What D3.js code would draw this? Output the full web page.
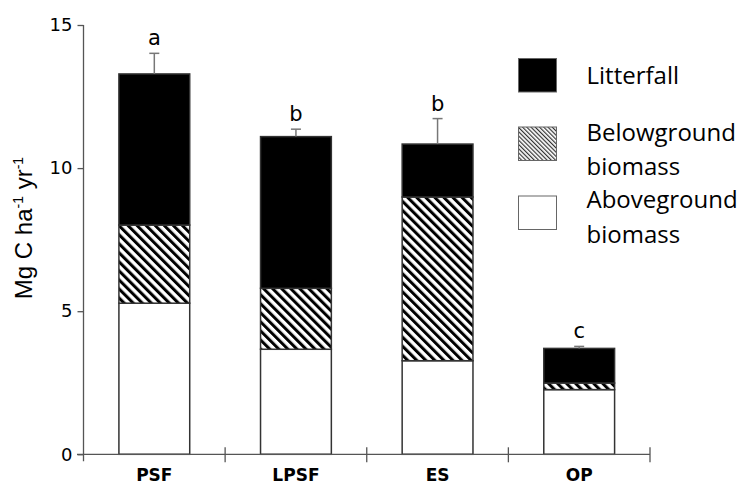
<!DOCTYPE html>
<html>
<head>
<meta charset="utf-8">
<script src="https://cdn.jsdelivr.net/npm/d3@7"></script>
<style>
  body { margin: 0; background: #fff; }
  svg { display: block; }
</style>
</head>
<body>
<div id="chart"></div>
<script>
// values (Mg C ha-1 yr-1)
var categories = ["PSF", "LPSF", "ES", "OP"];
var aboveground = [5.28, 3.67, 3.27, 2.26];
var belowground = [2.73, 2.13, 5.72, 0.23];
var litterfall = [5.28, 5.30, 1.85, 1.21];
var errorUp = [0.72, 0.26, 0.89, 0.07];
var letters = ["a", "b", "b", "c"];
var yTicks = [0, 5, 10, 15];
var seriesKeys = ["aboveground", "belowground", "litterfall"];
var legendItems = [
  { key: "litterfall", lines: ["Litterfall"] },
  { key: "belowground", lines: ["Belowground", "biomass"] },
  { key: "aboveground", lines: ["Aboveground", "biomass"] }
];

var width = 741, height = 486;
var svg = d3.select("#chart").append("svg")
  .attr("width", width)
  .attr("height", height);

// hatch patterns
var defs = svg.append("defs");
defs.append("pattern")
  .attr("id", "hatch")
  .attr("patternUnits", "userSpaceOnUse")
  .attr("width", 6.4).attr("height", 6.4)
  .attr("patternTransform", "rotate(-45)")
  .call(function (p) {
    p.append("rect").attr("width", 6.4).attr("height", 6.4).attr("fill", "#fff");
    p.append("rect").attr("width", 3).attr("height", 6.4).attr("fill", "#000");
  });
defs.append("pattern")
  .attr("id", "hatchFine")
  .attr("patternUnits", "userSpaceOnUse")
  .attr("width", 3).attr("height", 3)
  .attr("patternTransform", "rotate(-45)")
  .call(function (p) {
    p.append("rect").attr("width", 3).attr("height", 3).attr("fill", "#fff");
    p.append("rect").attr("width", 1.2).attr("height", 3).attr("fill", "#333");
  });

var fills = { aboveground: "#fff", belowground: "url(#hatch)", litterfall: "#000" };
var legendFills = { aboveground: "#fff", belowground: "url(#hatchFine)", litterfall: "#000" };

var data = categories.map(function (c, i) {
  return {
    cat: c,
    aboveground: aboveground[i],
    belowground: belowground[i],
    litterfall: litterfall[i],
    err: errorUp[i],
    letter: letters[i]
  };
});

var x = d3.scaleBand()
  .domain(categories)
  .range([83.5, 650])
  .paddingInner(0.5)
  .paddingOuter(0.25);

var y = d3.scaleLinear()
  .domain([0, 15])
  .range([454.3, 25]);

var stacked = d3.stack().keys(seriesKeys)(data);

// stacked bars
svg.append("g")
  .selectAll("g")
  .data(stacked)
  .enter()
  .append("g")
  .attr("fill", function (d) { return fills[d.key]; })
  .selectAll("rect")
  .data(function (d) { return d; })
  .enter()
  .append("rect")
  .attr("x", function (d) { return x(d.data.cat); })
  .attr("y", function (d) { return y(d[1]); })
  .attr("width", x.bandwidth())
  .attr("height", function (d) { return y(d[0]) - y(d[1]); })
  .attr("stroke", "#333")
  .attr("stroke-width", 1.5);

// error bars (upper only)
var total = function (d) { return d.aboveground + d.belowground + d.litterfall; };
var eb = svg.append("g").attr("stroke", "#777").attr("stroke-width", 1.5);
data.forEach(function (d) {
  var cx = x(d.cat) + x.bandwidth() / 2;
  eb.append("line")
    .attr("x1", cx).attr("x2", cx)
    .attr("y1", y(total(d))).attr("y2", y(total(d) + d.err));
  eb.append("line")
    .attr("x1", cx - 5).attr("x2", cx + 5)
    .attr("y1", y(total(d) + d.err)).attr("y2", y(total(d) + d.err));
});

// significance letters
svg.append("g")
  .selectAll("text")
  .data(data)
  .enter()
  .append("text")
  .attr("x", function (d) { return x(d.cat) + x.bandwidth() / 2; })
  .attr("y", function (d) { return y(total(d) + d.err) - 8; })
  .attr("text-anchor", "middle")
  .attr("font-family", "DejaVu Sans")
  .attr("font-size", 21)
  .text(function (d) { return d.letter; });

// y axis
var yAxis = svg.append("g")
  .attr("transform", "translate(83.5,0)")
  .call(d3.axisLeft(y).tickValues(yTicks).tickSize(6).tickPadding(5));
yAxis.select(".domain").attr("d", "M0," + y(15) + "V" + (y(0) + 7));
yAxis.selectAll("line, .domain").attr("stroke", "#555").attr("stroke-width", 1.3);
yAxis.selectAll("text")
  .attr("font-family", "DejaVu Sans")
  .attr("font-size", 18)
  .attr("fill", "#000");

// x axis with ticks between categories
var xAxis = svg.append("g")
  .attr("transform", "translate(0," + y(0) + ")");
xAxis.append("line")
  .attr("x1", 77).attr("x2", 650)
  .attr("stroke", "#555").attr("stroke-width", 1.3);
var bounds = categories.slice(1).map(function (c) {
  return x(c) - x.step() * x.paddingInner() / 2;
});
bounds.push(650);
xAxis.selectAll(".sep")
  .data(bounds)
  .enter()
  .append("line")
  .attr("class", "sep")
  .attr("x1", function (d) { return d; })
  .attr("x2", function (d) { return d; })
  .attr("y1", -7).attr("y2", 8)
  .attr("stroke", "#555").attr("stroke-width", 1.3);
xAxis.selectAll(".cat")
  .data(categories)
  .enter()
  .append("text")
  .attr("class", "cat")
  .attr("x", function (d) { return x(d) + x.bandwidth() / 2; })
  .attr("y", 27)
  .attr("text-anchor", "middle")
  .attr("font-family", "DejaVu Sans")
  .attr("font-weight", "bold")
  .attr("font-size", 17)
  .text(function (d) { return d; });

// y axis title
var yTitle = svg.append("text")
  .attr("transform", "translate(32,228) rotate(-90)")
  .attr("text-anchor", "middle")
  .attr("font-family", "Liberation Sans")
  .attr("font-size", 24);
yTitle.append("tspan").text("Mg C ha");
yTitle.append("tspan").attr("dy", -9).attr("font-size", 14).text("-1");
yTitle.append("tspan").attr("dy", 9).text(" yr");
yTitle.append("tspan").attr("dy", -9).attr("font-size", 14).text("-1");

// legend
var legend = svg.append("g");
var boxY = [58.5, 127, 196];
var textY = [84, 140.7, 208.3];
legendItems.forEach(function (item, i) {
  legend.append("rect")
    .attr("x", 518.5).attr("y", boxY[i])
    .attr("width", 38).attr("height", 33.5)
    .attr("fill", legendFills[item.key])
    .attr("stroke", "#666").attr("stroke-width", 1);
  var t = legend.append("text")
    .attr("x", 586.5).attr("y", textY[i])
    .attr("font-family", "Open Sans")
    .attr("font-size", 24);
  item.lines.forEach(function (line, j) {
    t.append("tspan")
      .attr("x", 586.5)
      .attr("dy", j === 0 ? 0 : 34.5)
      .text(line);
  });
});
</script>
</body>
</html>
